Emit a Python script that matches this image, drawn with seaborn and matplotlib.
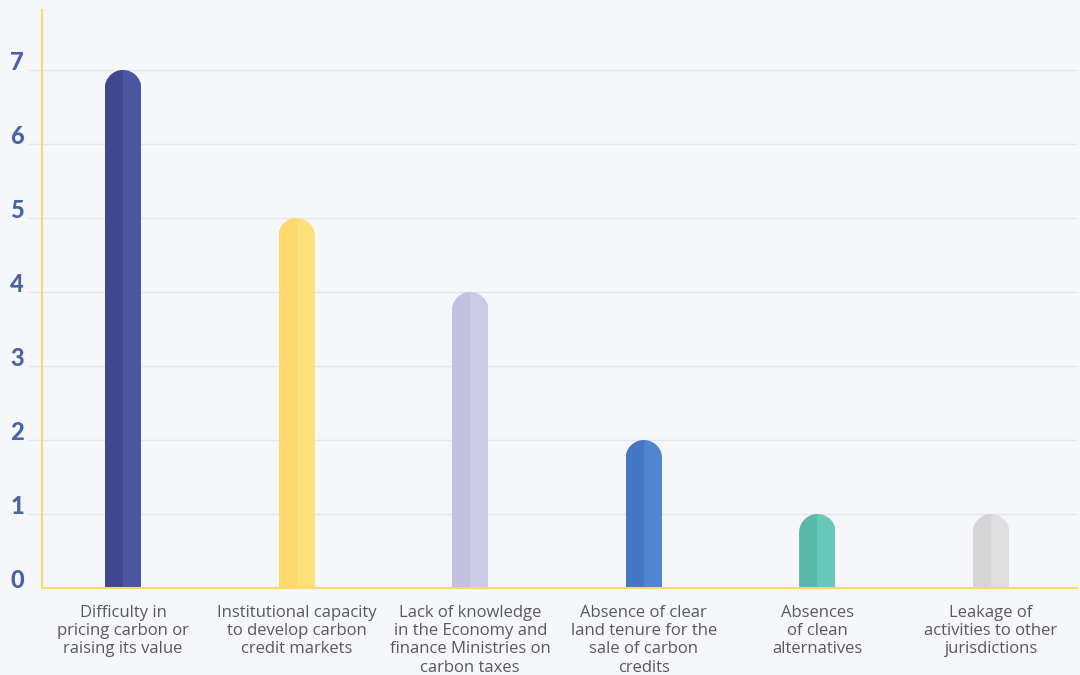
import matplotlib
matplotlib.use("Agg")
import matplotlib.pyplot as plt
from matplotlib.path import Path
import seaborn as sns
import pandas as pd

categories = [
    "Difficulty in\npricing carbon or\nraising its value",
    "Institutional capacity\nto develop carbon\ncredit markets",
    "Lack of knowledge\nin the Economy and\nfinance Ministries on\ncarbon taxes",
    "Absence of clear\nland tenure for the\nsale of carbon\ncredits",
    "Absences\nof clean\nalternatives",
    "Leakage of\nactivities to other\njurisdictions",
]
values = [7, 5, 4, 2, 1, 1]
dark_colors = ["#3e478f", "#fdd86c", "#c2c1e0", "#4677c3", "#59b7ac", "#d5d5d5"]
light_colors = ["#4a569f", "#fee07b", "#cbcbe6", "#5085d4", "#68c8bc", "#dedede"]
yticks = [0, 1, 2, 3, 4, 5, 6, 7]

BG = "#f6f7fa"
YELLOW = "#fdd96b"
GRID = "#e2e4ee"

df = pd.DataFrame({
    "category": categories * 2,
    "value": values * 2,
    "half": ["left"] * len(categories) + ["right"] * len(categories),
})

fig = plt.figure(figsize=(10.8, 6.75), dpi=100, facecolor=BG)
ax = fig.add_axes([42 / 1080, 1 - 588 / 675, (1077 - 42) / 1080, (588 - 10) / 675])
ax.set_facecolor(BG)

bar_w = 0.2074
sns.barplot(data=df, x="category", y="value", hue="half", order=categories,
            hue_order=["left", "right"], dodge=True, width=bar_w, gap=0,
            saturation=1, legend=False, ax=ax, errorbar=None)

ax.set_xlim(-0.4666, 5.495)
ax.set_ylim(0, 7.81)

# rounded tops: clip each half-bar to a capsule-top path
ry = 18.5 / 74.0
hw = bar_w / 2
for p in ax.patches:
    cx_p = p.get_x() + p.get_width() / 2
    i = int(round(cx_p))
    is_left = cx_p < i
    p.set_facecolor(dark_colors[i] if is_left else light_colors[i])
    p.set_edgecolor("none")
    p.set_linewidth(0)
    v = values[i]
    yc = v - ry
    arc = Path.arc(0, 180)
    hwc = hw + 0.002
    verts = [(i + hwc, 0), (i + hwc, yc)]
    codes = [Path.MOVETO, Path.LINETO]
    for (ux, uy), c in zip(arc.vertices[1:], arc.codes[1:]):
        verts.append((i + hwc * ux, yc + ry * uy))
        codes.append(c)
    verts += [(i - hwc, 0), (i + hwc, 0)]
    codes += [Path.LINETO, Path.CLOSEPOLY]
    p.set_clip_path(Path(verts, codes), ax.transData)

# axes styling
ax.set_yticks(yticks)
ax.set_yticklabels([str(t) for t in yticks])
ax.yaxis.grid(True, color=GRID, linewidth=1)
ax.set_axisbelow(True)
for s in ["top", "right"]:
    ax.spines[s].set_visible(False)
for s in ["left", "bottom"]:
    ax.spines[s].set_color(YELLOW)
    ax.spines[s].set_linewidth(1.5)
    ax.spines[s].set_zorder(5)

ax.tick_params(axis="y", length=10, width=1, color=GRID, pad=3,
               labelsize=17, labelcolor="#4a63a6")
ax.yaxis.get_major_ticks()[0].tick1line.set_visible(False)
for lab in ax.get_yticklabels():
    lab.set_fontfamily(["Lato", "DejaVu Sans"])
    lab.set_fontweight(900)
    lab.set_verticalalignment("baseline")

ax.tick_params(axis="x", length=0, pad=12, labelsize=12, labelcolor="#595959")
for lab in ax.get_xticklabels():
    lab.set_fontfamily("Open Sans")
    lab.set_linespacing(1.2)

ax.set_xlabel("")
ax.set_ylabel("")

fig.savefig("out.png", dpi=100, facecolor=BG)
